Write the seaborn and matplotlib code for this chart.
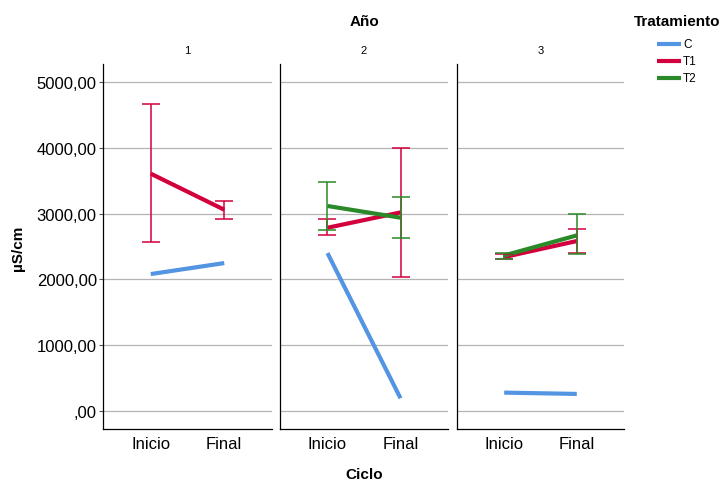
import matplotlib
matplotlib.use("Agg")
import matplotlib.pyplot as plt
import numpy as np
import pandas as pd
import seaborn as sns
from matplotlib.ticker import FuncFormatter

ciclos = ["Inicio", "Final"]
anos = [1, 2, 3]
tratamientos = ["C", "T1", "T2"]

# medias por año (Inicio, Final)
c_media = {1: [2081, 2248], 2: [2400, 193], 3: [279, 259]}
t1_media = {1: [3607, 3059], 2: [2785, 3018], 3: [2339, 2583]}
t1_inf = {1: [2572, 2912], 2: [2669, 2040], 3: [2313, 2400]}
t1_sup = {1: [4668, 3196], 2: [2918, 3993], 3: [2390, 2766]}
t2_media = {2: [3116, 2938], 3: [2364, 2669]}
t2_inf = {2: [2744, 2629], 3: [2310, 2380]}
t2_sup = {2: [3475, 3247], 3: [2395, 2988]}

colores = {"C": "#5394e3", "T1": "#d2003c", "T2": "#2a8a2a"}

rows = []
for a in anos:
    for i, cic in enumerate(ciclos):
        rows.append((a, i, cic, "C", c_media[a][i], np.nan, np.nan))
        rows.append((a, i, cic, "T1", t1_media[a][i], t1_inf[a][i], t1_sup[a][i]))
        if a in t2_media:
            rows.append((a, i, cic, "T2", t2_media[a][i], t2_inf[a][i], t2_sup[a][i]))
df = pd.DataFrame(rows, columns=["Año", "pos", "Ciclo", "Tratamiento", "valor", "inf", "sup"])

sns.set_style("white")
plt.rcParams["font.family"] = ["Liberation Sans", "DejaVu Sans"]
plt.rcParams["text.color"] = "black"
plt.rcParams["xtick.color"] = "black"
plt.rcParams["ytick.color"] = "black"
plt.rcParams["axes.labelcolor"] = "black"

fig = plt.figure(figsize=(7.23, 4.81), dpi=100)
lefts = [103, 280, 457]
widths = [169, 168, 167]
fmt = FuncFormatter(lambda v, p: (",00" if v == 0 else f"{v:.2f}".replace(".", ",")))

for k, a in enumerate(anos):
    ax = fig.add_axes([lefts[k] / 723, 51 / 481, widths[k] / 723, 365 / 481])
    sub = df[df["Año"] == a]
    sns.lineplot(data=sub, x="pos", y="valor", hue="Tratamiento", palette=colores,
                 hue_order=[t for t in tratamientos if t in sub["Tratamiento"].values],
                 linewidth=3, legend=False, ax=ax, errorbar=None,
                 solid_capstyle="butt")
    for t in ["T1", "T2"]:
        s = sub[sub["Tratamiento"] == t]
        if len(s) == 0:
            continue
        ax.errorbar(s["pos"], s["valor"], yerr=[s["valor"] - s["inf"], s["sup"] - s["valor"]],
                    fmt="none", ecolor=colores[t], elinewidth=1.1, capsize=6.8, capthick=1.1)
    ax.set_xlim(-0.65, 1.65)
    ax.set_ylim(-274, 5274)
    ax.set_yticks(range(0, 5001, 1000))
    ax.yaxis.grid(True, color="#b4b4b4", linewidth=0.9)
    ax.set_axisbelow(True)
    ax.set_xticks([0, 1])
    ax.set_xticklabels(ciclos, fontsize=12)
    ax.tick_params(axis="x", length=0, pad=5)
    ax.set_xlabel("")
    ax.set_ylabel("")
    for sp in ["top", "right"]:
        ax.spines[sp].set_visible(False)
    for sp in ["left", "bottom"]:
        ax.spines[sp].set_color("black")
        ax.spines[sp].set_linewidth(0.9)
    if k == 0:
        ax.yaxis.set_major_formatter(fmt)
        ax.tick_params(axis="y", labelsize=12, length=3, width=0.8, color="#555555", left=True, pad=1.5)
    else:
        ax.tick_params(axis="y", labelleft=False, length=0)
    ax.set_title(str(a), fontsize=8, pad=8)

fig.text(364 / 723, 1 - 22 / 481, "Año", ha="center", va="center", fontsize=11, fontweight="bold")
fig.text(364 / 723, 1 - 475 / 481, "Ciclo", ha="center", va="center", fontsize=11, fontweight="bold")
fig.text(18 / 723, 1 - 248 / 481, "µS/cm", ha="center", va="center", fontsize=11,
         fontweight="bold", rotation=90)

# leyenda
fig.text(677 / 723, 1 - 22 / 481, "Tratamiento", ha="center", va="center", fontsize=11, fontweight="bold")
for j, t in enumerate(tratamientos):
    y = 1 - (45 + 17 * j) / 481
    fig.add_artist(plt.Line2D([657 / 723, 681 / 723], [y, y], color=colores[t], linewidth=3,
                              solid_capstyle="butt"))
    fig.text(683 / 723, y, t, ha="left", va="center", fontsize=8.5)

fig.savefig("out.png", dpi=100)
